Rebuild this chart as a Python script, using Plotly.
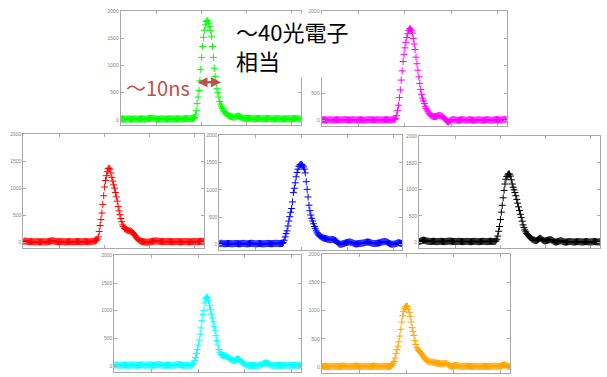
import plotly.graph_objects as go

# ---------------- data (sample index, ADC counts) ----------------
sample = list(range(-40, 161))

green = [
    12, 15, 18, 16, 14, 12, 14, 17, 20, 18,
    15, 13, 12, 14, 16, 18, 17, 15, 13, 12,
    14, 16, 19, 21, 20, 17, 15, 14, 15, 17,
    19, 22, 25, 28, 30, 32, 30, 26, 22, 18,
    15, 13, 12, 14, 16, 18, 19, 18, 16, 14,
    13, 14, 16, 18, 20, 22, 21, 19, 17, 15,
    14, 15, 17, 19, 20, 19, 17, 15, 14, 15,
    17, 20, 23, 25, 24, 22, 20, 18, 20, 24,
    18, 25, 45, 90, 170, 300, 420, 540, 720, 930,
    1150, 1350, 1520, 1650, 1750, 1810, 1830, 1820, 1780, 1720,
    1640, 1540, 1350, 1150, 950, 800, 680, 580, 500, 420,
    340, 290, 250, 210, 180, 150, 130, 115, 100, 90,
    80, 70, 65, 60, 55, 50, 50, 55, 60, 65,
    70, 70, 65, 55, 45, 35, 30, 27, 25, 24,
    25, 28, 30, 32, 30, 27, 24, 22, 20, 19,
    20, 22, 25, 27, 26, 24, 22, 20, 18, 17,
    18, 20, 22, 24, 25, 24, 22, 20, 18, 16,
    15, 16, 18, 20, 22, 23, 22, 20, 18, 16,
    15, 15, 17, 19, 21, 22, 21, 19, 17, 16,
    17, 19, 22, 25, 27, 26, 23, 20, 18, 17,
    18,
]

magenta = [
    10, 12, 15, 14, 12, 10, 8, 10, 13, 15,
    14, 12, 10, 9, 10, 12, 14, 15, 13, 11,
    10, 11, 13, 15, 17, 18, 16, 14, 12, 10,
    9, 10, 12, 14, 15, 14, 12, 10, 9, 10,
    12, 14, 15, 14, 12, 10, 9, 8, 9, 11,
    13, 15, 16, 15, 13, 11, 10, 10, 11, 13,
    14, 15, 14, 12, 10, 9, 10, 12, 14, 16,
    17, 16, 14, 12, 11, 12, 14, 17, 20, 20,
    40, 90, 180, 280, 420, 560, 740, 910, 1080, 1210,
    1330, 1430, 1520, 1590, 1650, 1680, 1675, 1650, 1600, 1500,
    1400, 1300, 1160, 1040, 920, 800, 680, 570, 480, 410,
    360, 310, 260, 220, 190, 160, 135, 115, 95, 85,
    78, 72, 70, 72, 78, 85, 92, 95, 92, 85,
    80, 70, 55, 35, 15, -5, -20, -25, -15, 0,
    10, 15, 18, 16, 14, 10, 6, 4, 5, 8,
    12, 15, 16, 14, 11, 8, 6, 7, 10, 13,
    15, 14, 11, 8, 5, 4, 6, 9, 12, 14,
    15, 13, 10, 7, 5, 6, 9, 12, 15, 16,
    14, 11, 8, 6, 5, 7, 10, 13, 16, 18,
    17, 14, 11, 9, 10, 13, 17, 22, 25, 22,
    18,
]

red = [
    15, 20, 25, 22, 18, 14, 12, 10, 12, 14,
    12, 10, 8, 9, 11, 13, 12, 10, 8, 7,
    8, 10, 12, 11, 9, 8, 9, 11, 14, 18,
    22, 26, 30, 28, 24, 20, 16, 13, 11, 10,
    9, 10, 12, 13, 12, 10, 9, 8, 9, 11,
    13, 14, 13, 11, 9, 8, 8, 10, 12, 14,
    15, 14, 12, 10, 9, 10, 12, 14, 15, 14,
    12, 10, 9, 10, 12, 15, 18, 20, 22, 25,
    30, 40, 60, 100, 200, 310, 420, 540, 700, 860,
    1020, 1140, 1230, 1310, 1360, 1370, 1350, 1280, 1200, 1130,
    1060, 1000, 920, 840, 760, 660, 580, 510, 440, 380,
    320, 290, 260, 245, 235, 225, 220, 215, 210, 205,
    195, 180, 160, 140, 120, 95, 75, 55, 40, 30,
    22, 18, 14, 10, 8, 5, 3, 2, 3, 5,
    8, 12, 16, 20, 22, 24, 25, 24, 22, 20,
    18, 17, 16, 15, 14, 13, 12, 12, 13, 14,
    15, 16, 15, 13, 11, 10, 10, 11, 13, 14,
    15, 14, 12, 10, 9, 9, 10, 12, 14, 15,
    14, 12, 10, 9, 8, 9, 11, 13, 15, 16,
    15, 13, 11, 10, 12, 15, 18, 20, 18, 15,
    12,
]

blue = [
    20, 22, 24, 22, 18, 15, 14, 15, 17, 19,
    20, 19, 17, 15, 14, 15, 17, 19, 20, 19,
    17, 15, 14, 15, 17, 20, 22, 21, 18, 15,
    13, 14, 16, 19, 22, 24, 22, 19, 16, 14,
    13, 14, 16, 18, 19, 18, 16, 14, 13, 14,
    16, 18, 20, 21, 20, 18, 16, 15, 16, 18,
    20, 22, 23, 22, 20, 18, 17, 18, 20, 20,
    40, 80, 140, 200, 250, 340, 430, 510, 590, 660,
    780, 950, 1030, 1130, 1240, 1320, 1380, 1430, 1455, 1465,
    1467, 1450, 1420, 1380, 1310, 1150, 1010, 870, 720, 620,
    540, 480, 430, 380, 330, 290, 250, 215, 190, 170,
    155, 145, 135, 125, 120, 115, 110, 105, 100, 95,
    90, 88, 90, 95, 95, 90, 80, 70, 60, 45,
    25, 10, 5, 5, 10, 15, 20, 25, 30, 35,
    40, 45, 45, 45, 42, 38, 30, 22, 15, 12,
    12, 14, 17, 20, 22, 24, 25, 27, 30, 35,
    40, 44, 46, 45, 42, 36, 30, 24, 20, 18,
    18, 20, 22, 25, 28, 32, 36, 42, 48, 52,
    55, 56, 54, 48, 40, 30, 20, 12, 8, 6,
    5, 8, 12, 18, 24, 30, 32, 30, 26, 22,
    20,
]

black = [
    15, 20, 28, 35, 40, 42, 40, 35, 30, 25,
    22, 20, 18, 17, 18, 20, 21, 20, 18, 16,
    15, 16, 18, 20, 21, 20, 18, 16, 15, 16,
    18, 20, 22, 24, 25, 24, 22, 20, 18, 17,
    16, 17, 18, 20, 21, 20, 18, 16, 15, 15,
    16, 18, 19, 20, 19, 17, 15, 14, 15, 17,
    19, 20, 20, 19, 17, 15, 14, 15, 17, 19,
    20, 21, 20, 18, 16, 15, 16, 18, 20, 21,
    20, 18, 17, 18, 20, 30, 60, 120, 210, 300,
    430, 570, 700, 840, 980, 1100, 1190, 1240, 1270, 1290,
    1285, 1250, 1180, 1100, 1040, 990, 940, 880, 810, 740,
    670, 600, 530, 470, 400, 330, 280, 235, 200, 170,
    145, 125, 105, 90, 75, 60, 50, 45, 40, 35,
    35, 45, 60, 75, 80, 70, 55, 40, 32, 30,
    30, 35, 40, 45, 50, 52, 50, 42, 30, 20,
    12, 8, 8, 12, 18, 25, 30, 32, 28, 20,
    12, 8, 6, 7, 10, 14, 17, 18, 16, 13,
    10, 8, 8, 10, 13, 15, 16, 15, 12, 10,
    8, 8, 10, 13, 15, 16, 14, 11, 9, 8,
    9, 11, 14, 16, 17, 15, 12, 10, 9, 10,
    12,
]

cyan = [
    18, 20, 22, 21, 19, 17, 16, 17, 19, 21,
    22, 21, 19, 17, 16, 16, 18, 20, 22, 23,
    22, 20, 18, 16, 15, 16, 18, 21, 24, 26,
    25, 22, 19, 17, 16, 17, 19, 21, 22, 21,
    19, 17, 16, 17, 19, 22, 25, 28, 30, 28,
    25, 21, 18, 16, 15, 16, 18, 20, 21, 20,
    18, 16, 15, 16, 18, 21, 24, 27, 29, 30,
    28, 24, 20, 17, 15, 14, 15, 17, 18, 18,
    17, 16, 16, 17, 20, 50, 100, 160, 230, 300,
    380, 470, 580, 690, 820, 930, 1010, 1140, 1220, 1250,
    1235, 1180, 1100, 1020, 940, 870, 800, 720, 640, 550,
    460, 380, 300, 240, 215, 205, 198, 194, 190, 185,
    178, 170, 163, 150, 135, 120, 110, 105, 100, 100,
    110, 125, 132, 128, 115, 100, 85, 70, 55, 42,
    32, 25, 20, 16, 14, 13, 13, 14, 15, 15,
    14, 13, 13, 14, 16, 18, 20, 22, 25, 38,
    48, 55, 60, 60, 55, 48, 38, 28, 20, 15,
    13, 12, 13, 15, 17, 18, 17, 15, 14, 14,
    15, 17, 19, 20, 19, 17, 15, 14, 14, 15,
    17, 19, 20, 19, 17, 15, 14, 15, 17, 19,
    20,
]

orange = [
    10, 12, 14, 15, 14, 12, 10, 9, 10, 12,
    14, 16, 17, 16, 14, 12, 10, 9, 9, 10,
    12, 14, 16, 18, 19, 18, 16, 14, 12, 11,
    10, 10, 11, 13, 15, 17, 18, 17, 15, 13,
    11, 10, 10, 11, 13, 15, 16, 15, 13, 11,
    10, 9, 10, 12, 14, 16, 17, 16, 14, 12,
    10, 9, 9, 10, 12, 14, 16, 17, 16, 14,
    12, 11, 12, 15, 25, 40, 70, 100, 160, 240,
    310, 370, 450, 550, 670, 800, 910, 990, 1040, 1070,
    1080, 1075, 1030, 970, 900, 800, 700, 630, 560, 470,
    400, 350, 320, 295, 275, 255, 235, 215, 190, 165,
    145, 125, 110, 100, 95, 92, 90, 88, 86, 84,
    80, 76, 72, 68, 65, 62, 60, 58, 58, 60,
    64, 68, 68, 62, 50, 38, 25, 15, 10, 12,
    18, 24, 28, 28, 25, 22, 18, 15, 13, 12,
    12, 13, 15, 17, 18, 17, 15, 13, 11, 10,
    10, 11, 13, 15, 16, 15, 13, 11, 10, 10,
    11, 13, 15, 16, 15, 13, 11, 10, 10, 11,
    13, 15, 17, 18, 17, 15, 13, 12, 12, 14,
    18, 24, 32, 38, 40, 36, 28, 20, 15, 12,
    10,
]

y_ticks = [0, 500, 1000, 1500, 2000]
x_ticks = [0, 50, 100, 150]

for arr in (green, magenta, red, blue, black, cyan, orange):
    assert len(arr) == len(sample), len(arr)

# ---------------- layout (pixel boxes of each panel) ----------------
W, H = 607, 377
panels = [
    (green,   "#00ff00", (120.7, 300.7, 8.3, 123.3)),
    (magenta, "#ff00ff", (321.7, 506.7, 8.3, 124.0)),
    (red,     "#ff0000", (23.3, 204.0, 132.0, 246.7)),
    (blue,    "#0000ff", (219.3, 402.3, 133.3, 249.0)),
    (black,   "#000000", (419.0, 600.0, 134.3, 246.7)),
    (cyan,    "#00ffff", (114.3, 301.0, 254.3, 371.7)),
    (orange,  "#ffa500", (321.7, 510.0, 253.3, 372.7)),
]

fig = go.Figure()
axis_gray = "#a8a8a8"
for i, (vals, color, (l, r, t, b)) in enumerate(panels, start=1):
    sfx = "" if i == 1 else str(i)
    fig.add_trace(go.Scatter(
        x=sample, y=vals, mode="markers",
        xaxis="x" + sfx, yaxis="y" + sfx,
        marker=dict(symbol="cross-thin", size=5,
                    line=dict(color=color, width=1)),
        showlegend=False, hoverinfo="skip",
    ))
    fig.layout["xaxis" + sfx] = dict(
        domain=[l / W, r / W], anchor="y" + sfx,
        range=[-40, 160], tickvals=x_ticks, showticklabels=False,
        ticks="inside", ticklen=3, tickcolor=axis_gray,
        showline=True, linecolor=axis_gray, linewidth=1, mirror="ticks",
        showgrid=False, zeroline=False, fixedrange=True,
    )
    fig.layout["yaxis" + sfx] = dict(
        domain=[1 - b / H, 1 - t / H], anchor="x" + sfx,
        range=[-100, 2000], tickvals=y_ticks,
        ticktext=[str(v) for v in y_ticks],
        tickfont=dict(size=5, color="#7f7f7f", family="Liberation Sans"),
        ticks="inside", ticklen=3, tickcolor=axis_gray,
        showline=True, linecolor=axis_gray, linewidth=1, mirror="ticks",
        showgrid=False, zeroline=False, fixedrange=True,
    )

accent = "#c0504d"
jp_font = "Noto Sans CJK JP"
# callout text box (white fill hides what lies beneath, as in the slide)
fig.add_annotation(x=234 / W, y=1 - 10 / H, xref="paper", yref="paper",
                   text="～40光電子<br>相当", showarrow=False, align="left",
                   xanchor="left", yanchor="top", bgcolor="white", borderpad=1,
                   font=dict(size=22, color="#000000", family=jp_font))
fig.add_annotation(x=124 / W, y=1 - 85 / H, xref="paper", yref="paper",
                   text="～10ns", showarrow=False, xanchor="left", yanchor="middle",
                   font=dict(size=20, color=accent, family=jp_font))
# double-headed arrow marking the pulse width
fig.add_annotation(x=221 / W, y=1 - 80 / H, xref="paper", yref="paper",
                   ax=-25, ay=0, axref="pixel", ayref="pixel",
                   text="", showarrow=True, arrowhead=2, startarrowhead=2,
                   arrowside="end+start", arrowsize=0.8, startarrowsize=0.8,
                   arrowwidth=2.5, arrowcolor=accent, standoff=0, startstandoff=0)

fig.update_layout(
    width=W, height=H, margin=dict(l=0, r=0, t=0, b=0),
    paper_bgcolor="white", plot_bgcolor="white",
    showlegend=False,
)
fig.write_html("out.html", config={"displayModeBar": False},
               post_script="document.body.style.margin='0px';document.body.style.overflow='hidden';")
